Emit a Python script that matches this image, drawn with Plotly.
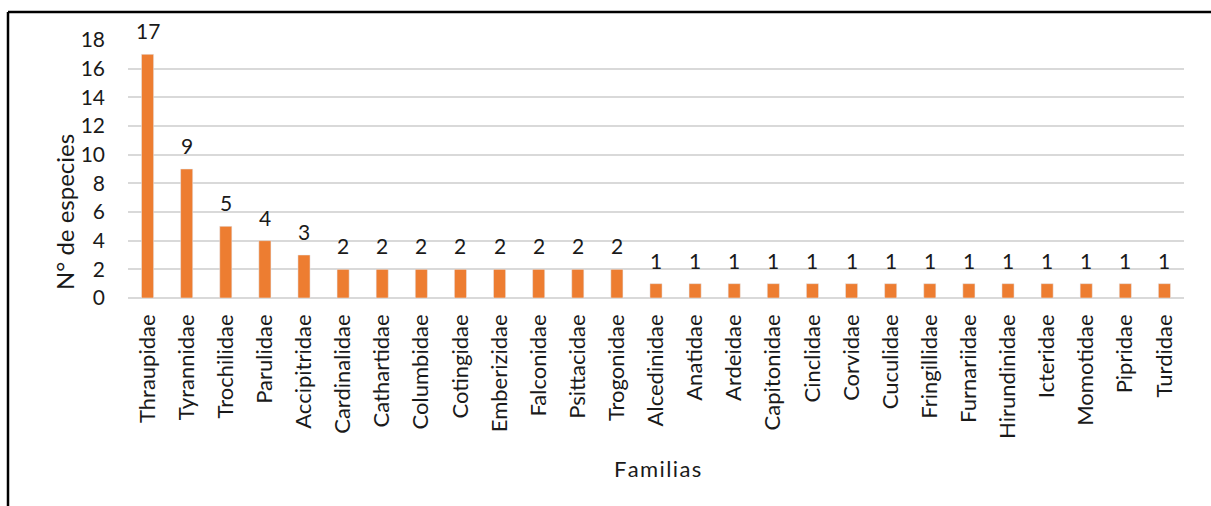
import plotly.graph_objects as go

familias = ["Thraupidae", "Tyrannidae", "Trochilidae", "Parulidae", "Accipitridae",
            "Cardinalidae", "Cathartidae", "Columbidae", "Cotingidae", "Emberizidae",
            "Falconidae", "Psittacidae", "Trogonidae", "Alcedinidae", "Anatidae",
            "Ardeidae", "Capitonidae", "Cinclidae", "Corvidae", "Cuculidae",
            "Fringillidae", "Furnariidae", "Hirundinidae", "Icteridae", "Momotidae",
            "Pipridae", "Turdidae"]
especies = [17, 9, 5, 4, 3, 2, 2, 2, 2, 2, 2, 2, 2, 1, 1, 1, 1, 1, 1, 1, 1, 1, 1, 1, 1, 1, 1]
y_ticks = [0, 2, 4, 6, 8, 10, 12, 14, 16, 18]

FONT = "Lato"
TXT = "#1a1a1a"
W, H = 1211, 506
L, R, T, B = 128, 27, 40, 208
pw, ph = W - L - R, H - T - B

fig = go.Figure(go.Bar(
    x=familias, y=especies, marker_color="#ED7D31", hoverinfo="skip",
))

def px(x):
    return (x - L) / pw

def py(y):
    return 1 - (y - T) / ph

labels = [
    dict(x=f, y=v, xref="x", yref="y", text=str(v), showarrow=False,
         yanchor="bottom", yshift=9, font=dict(size=21, family=FONT, color=TXT))
    for f, v in zip(familias, especies)
]

HS = "\u200a"
fig.update_layout(
    width=W, height=H,
    margin=dict(l=L, r=R, t=T, b=B, autoexpand=False),
    plot_bgcolor="white", paper_bgcolor="white",
    bargap=0.69,
    showlegend=False,
    font=dict(family=FONT, color=TXT),
    xaxis=dict(
        automargin=False,
        tickangle=-90, tickfont=dict(size=22, family=FONT, color=TXT),
        showgrid=False, showline=False, ticks="", ticklabelstandoff=11,
    ),
    yaxis=dict(
        automargin=False,
        range=[0, 18], tickvals=y_ticks, tickfont=dict(size=21, family=FONT, color=TXT),
        showgrid=True, gridcolor="#D9D9D9", gridwidth=2, zeroline=True, zerolinecolor="#D9D9D9",
        zerolinewidth=2, ticks="", ticklabelstandoff=22,
    ),
    annotations=labels + [
        dict(text="N° de especies", xref="paper", yref="paper", x=px(64), y=py(212),
             textangle=-90, showarrow=False, xanchor="center", yanchor="middle",
             font=dict(size=24, family=FONT, color=TXT)),
        dict(text=HS.join("Familias"), xref="paper", yref="paper", x=px(657), y=py(468),
             showarrow=False, xanchor="center", yanchor="middle",
             font=dict(size=22, family=FONT, color=TXT)),
    ],
    shapes=[
        dict(type="line", xref="paper", yref="paper", x0=px(8), x1=px(W + 5), y0=py(12), y1=py(12),
             line=dict(color="black", width=2.5)),
        dict(type="line", xref="paper", yref="paper", x0=px(8), x1=px(8), y0=py(12), y1=py(H + 5),
             line=dict(color="black", width=2.5)),
    ],
)

fig.write_html("out.html", config={"displayModeBar": False},
               post_script="document.body.style.margin='0';")
